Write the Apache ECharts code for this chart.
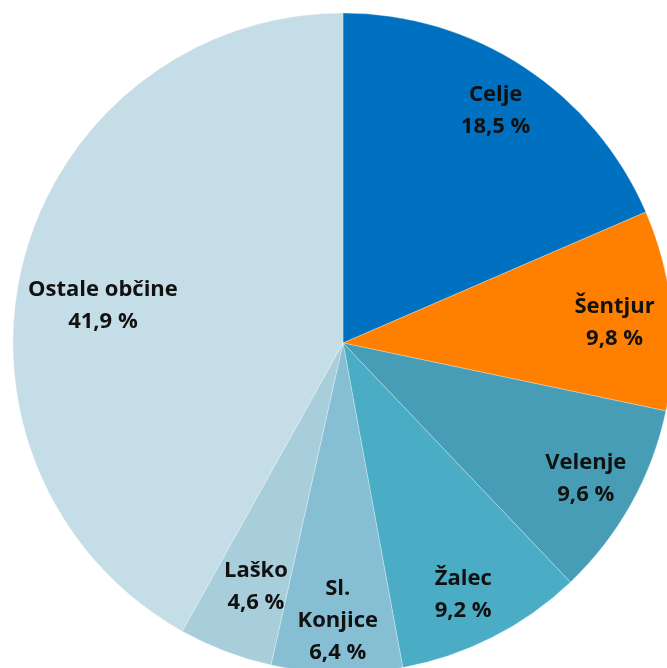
<!DOCTYPE html>
<html>
<head>
<meta charset="utf-8">
<script src="https://cdn.jsdelivr.net/npm/echarts@6/dist/echarts.min.js"></script>
<style>
  html, body { margin: 0; padding: 0; background: #fff; }
  #chart { width: 667px; height: 668px; }
</style>
</head>
<body>
<div id="chart"></div>
<script>
const categories = ["Celje", "Šentjur", "Velenje", "Žalec", "Sl. Konjice", "Laško", "Ostale občine"];
const shares = [18.5, 9.8, 9.6, 9.2, 6.4, 4.6, 41.9];
const colors = ["#0070c0", "#ff8000", "#469db5", "#4bacc6", "#86bfd3", "#a8cedc", "#c5dde6"];

// small nudges so labels sit where the original placed them
const labelOffsets = {
  "Šentjur": [-5, 8],
  "Žalec": [-6, 4],
  "Laško": [12, -16],
  "Ostale občine": [29, 33],
};

const chart = echarts.init(document.getElementById("chart"));

const pieData = categories.map((name, i) => ({
  name,
  value: shares[i],
  itemStyle: { color: colors[i] },
}));

const labelData = categories.map((name, i) => ({
  name,
  value: shares[i],
  label: labelOffsets[name] ? { offset: labelOffsets[name] } : {},
}));

const option = {
  animation: false,
  series: [
    {
      type: "pie",
      center: [343, 343],
      radius: [0, 330],
      startAngle: 90,
      clockwise: true,
      silent: true,
      itemStyle: {
        borderColor: "rgba(255,255,255,0.45)",
        borderWidth: 0.6,
      },
      label: { show: false },
      labelLine: { show: false },
      data: pieData,
    },
    {
      // transparent ring used only to place labels at ~83% of the radius
      type: "pie",
      center: [343, 343],
      radius: [220, 330],
      startAngle: 90,
      clockwise: true,
      silent: true,
      itemStyle: { color: "rgba(0,0,0,0)" },
      labelLine: { show: false },
      label: {
        show: true,
        position: "inside",
        color: "#111",
        fontFamily: "Open Sans",
        fontWeight: "bold",
        fontSize: 22,
        lineHeight: 32,
        formatter: (p) => {
          const name = p.name === "Sl. Konjice" ? "Sl.\nKonjice" : p.name;
          return name + "\n" + p.value.toFixed(1).replace(".", ",") + " %";
        },
      },
      data: labelData,
    },
  ],
};

chart.setOption(option);
</script>
</body>
</html>
